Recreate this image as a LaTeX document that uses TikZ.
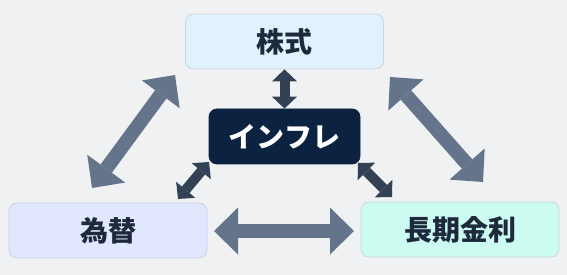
\documentclass[tikz,border=0pt]{standalone}
\usepackage{fontspec}
\newfontfamily\jp{Noto Sans CJK JP}
\usetikzlibrary{arrows.meta}
\definecolor{bgc}{HTML}{F0F1F3}
\definecolor{bigc}{HTML}{64748B}
\definecolor{smallc}{HTML}{334155}
\definecolor{txtc}{HTML}{1E293B}
\definecolor{bordc}{HTML}{CBD5E1}
\definecolor{kabuc}{HTML}{E0F2FE}
\definecolor{kawc}{HTML}{E0E7FF}
\definecolor{kinc}{HTML}{CCFBF1}
\definecolor{infc}{HTML}{0B2340}
\tikzset{
  box/.style={rectangle, rounded corners=8pt, draw=bordc, line width=0.8pt,
    minimum width=198pt, minimum height=55pt, inner sep=0pt,
    text=txtc, font=\jp\bfseries\fontsize{28}{30}\selectfont},
  darkbox/.style={box, fill=infc, draw=infc, text=white, minimum width=151pt},
  bigarrow/.style={draw=bigc, line width=14pt,
    {Triangle[width=47pt,length=24pt,line width=0pt]}-{Triangle[width=47pt,length=24pt,line width=0pt]}},
  smallarrow/.style={draw=smallc, line width=10pt,
    {Triangle[width=25pt,length=12pt,line width=0pt]}-{Triangle[width=25pt,length=12pt,line width=0pt]}},
}
\begin{document}
\begin{tikzpicture}[x=1pt,y=-1pt]
  \fill[bgc] (0,0) rectangle (567,275);
  \useasboundingbox (0,0) rectangle (567,275);
  \node[box, fill=kabuc] (kabu) at (284.5,41.5) {株式};
  \node[darkbox] (infl) at (284.5,136.5) {インフレ};
  \node[box, fill=kawc] (kawase) at (108,230.5) {為替};
  \node[box, fill=kinc] (kinri) at (460,229.5) {長期金利};
  % big arrow end points
  \coordinate (la) at (175,75);
  \coordinate (lb) at (92,188);
  \coordinate (ra) at (390,77);
  \coordinate (rb) at (483,182);
  \coordinate (ha) at (214,231);
  \coordinate (hb) at (354,231);
  \coordinate (sla) at (209,162);
  \coordinate (slb) at (178,199);
  \coordinate (sra) at (358,163);
  \coordinate (srb) at (392,197);
  \draw[bigarrow] (la) -- (lb);
  \draw[bigarrow] (ra) -- (rb);
  \draw[bigarrow] (ha) -- (hb);
  \draw[smallarrow] (kabu.south) -- (infl.north);
  \draw[smallarrow] (sla) -- (slb);
  \draw[smallarrow] (sra) -- (srb);
\end{tikzpicture}
\end{document}
